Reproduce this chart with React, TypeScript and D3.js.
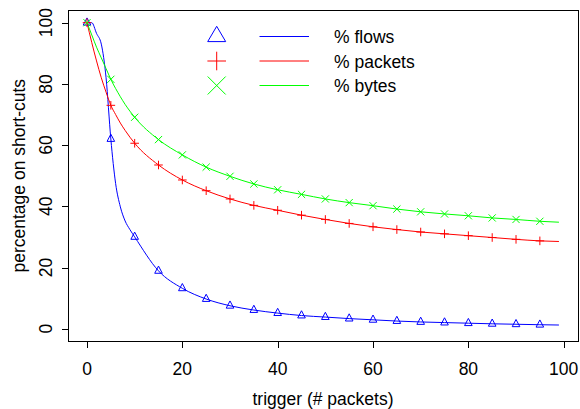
import React from "react";
import * as d3 from "d3";

const LINE_X = [0, 1, 2, 3, 4, 5, 6, 7, 8, 9, 10, 15, 20, 25, 30, 35, 40, 45, 50, 55, 60, 65, 70, 75, 80, 85, 90, 95, 99];
const FLOWS_LINE = [100, 100, 96.5, 93, 82, 62, 47.5, 39.8, 35.2, 32.4, 30, 18.9, 13.2, 9.7, 7.5, 6.1, 5.1, 4.3, 3.8, 3.3, 2.9, 2.5, 2.2, 2.0, 1.8, 1.6, 1.45, 1.3, 1.2];
const PACKETS_LINE = [100, 93.5, 87.5, 82, 77.3, 73, 70, 67.2, 64.8, 62.6, 60.6, 53.5, 48.6, 45.1, 42.4, 40.3, 38.7, 37.1, 35.7, 34.4, 33.3, 32.4, 31.6, 31.0, 30.4, 29.8, 29.2, 28.7, 28.5];
const BYTES_LINE = [100, 96, 92, 88.5, 85, 81.5, 78.5, 75.8, 73.3, 71.1, 69.1, 61.8, 56.8, 52.8, 49.8, 47.3, 45.4, 43.9, 42.4, 41.2, 40.2, 39.1, 38.2, 37.5, 36.9, 36.2, 35.7, 35.1, 34.8];

const MARK_X = [0, 5, 10, 15, 20, 25, 30, 35, 40, 45, 50, 55, 60, 65, 70, 75, 80, 85, 90, 95];
const FLOWS_PTS = [100, 62, 30, 18.9, 13.2, 9.7, 7.5, 6.1, 5.1, 4.3, 3.8, 3.3, 2.9, 2.5, 2.2, 2.0, 1.8, 1.6, 1.45, 1.3];
const PACKETS_PTS = [100, 73, 60.6, 53.5, 48.6, 45.1, 42.4, 40.3, 38.7, 37.1, 35.7, 34.4, 33.3, 32.4, 31.6, 31.0, 30.4, 29.8, 29.2, 28.7];
const BYTES_PTS = [100, 81.5, 69.1, 61.8, 56.8, 52.8, 49.8, 47.3, 45.4, 43.9, 42.4, 41.2, 40.2, 39.1, 38.2, 37.5, 36.9, 36.2, 35.7, 35.1];

const X_TICKS = [0, 20, 40, 60, 80, 100];
const Y_TICKS = [0, 20, 40, 60, 80, 100];
const LEGEND_LABELS = ["% flows", "% packets", "% bytes"];
const COLORS = ["#0000ff", "#ff0000", "#00ff00"];

const FONT = "'Liberation Sans', Arial, Helvetica, sans-serif";
const FS = 17.5;

function tri(cx: number, cy: number, xc: number, r: number, yc: number) {
  return `M${cx},${cy - r}L${cx + xc},${cy + yc}L${cx - xc},${cy + yc}Z`;
}
function plus(cx: number, cy: number, h: number) {
  return `M${cx - h},${cy}L${cx + h},${cy}M${cx},${cy - h}L${cx},${cy + h}`;
}
function cross(cx: number, cy: number, h: number) {
  return `M${cx - h},${cy - h}L${cx + h},${cy + h}M${cx - h},${cy + h}L${cx + h},${cy - h}`;
}

export default function App() {
  const x = d3.scaleLinear().domain([0, 100]).range([87, 563.7]);
  const y = d3.scaleLinear().domain([0, 100]).range([328.7, 22.7]);
  const left = x(-3.96), right = x(102.96), top = y(104), bottom = y(-4);

  const line = d3
    .line<number>()
    .x((_, i) => x(LINE_X[i]))
    .y((d) => y(d))
    .curve(d3.curveMonotoneX);

  const series = [FLOWS_LINE, PACKETS_LINE, BYTES_LINE];
  const pts = [FLOWS_PTS, PACKETS_PTS, BYTES_PTS];

  const marker = (k: number, cx: number, cy: number, big: boolean) => {
    if (k === 0) return big ? tri(cx, cy, 9, 10.2, 5.1) : tri(cx, cy, 3.8, 4.8, 2.4);
    if (k === 1) return plus(cx, cy, big ? 9.3 : 4.3);
    return cross(cx, cy, big ? 9 : 3.6);
  };

  const legendRows = [36.5, 61, 85.5];

  return (
    <svg
      width={580}
      height={409}
      style={{ position: "absolute", left: 0, top: 0, background: "#fff" }}
      fontFamily={FONT}
      fontSize={FS}
    >
      <rect x={0} y={0} width={580} height={409} fill="#fff" />
      <rect
        x={Math.round(left) + 0.5}
        y={Math.round(top) + 0.5}
        width={Math.round(right) - Math.round(left)}
        height={Math.round(bottom) - Math.round(top)}
        fill="none"
        stroke="#000"
        strokeWidth={1}
      />
      {X_TICKS.map((t) => (
        <g key={"xt" + t}>
          <line x1={Math.round(x(t)) + 0.5} x2={Math.round(x(t)) + 0.5} y1={Math.round(bottom) + 0.5} y2={Math.round(bottom) + 7} stroke="#000" />
          <text x={x(t)} y={375.3} textAnchor="middle" fill="#000">
            {t}
          </text>
        </g>
      ))}
      {Y_TICKS.map((t) => (
        <g key={"yt" + t}>
          <line x1={Math.round(left) - 6} x2={Math.round(left) + 0.5} y1={Math.round(y(t)) + 0.5} y2={Math.round(y(t)) + 0.5} stroke="#000" />
          <text transform={`translate(51.7,${y(t)}) rotate(-90)`} textAnchor="middle" fill="#000">
            {t}
          </text>
        </g>
      ))}
      <text x={(left + right) / 2} y={405} textAnchor="middle" fill="#000">
        trigger (# packets)
      </text>
      <text transform={`translate(24.6,${(top + bottom) / 2}) rotate(-90)`} textAnchor="middle" fill="#000">
        percentage on short-cuts
      </text>

      {series.map((s, k) => (
        <path key={"l" + k} d={line(s) || ""} fill="none" stroke={COLORS[k]} strokeWidth={1} />
      ))}
      {pts.map((s, k) =>
        s.map((v, i) => (
          <path key={`m${k}-${i}`} d={marker(k, x(MARK_X[i]), y(v), false)} fill="none" stroke={COLORS[k]} strokeWidth={1} />
        ))
      )}

      {LEGEND_LABELS.map((lab, k) => (
        <g key={"lg" + k}>
          <path d={marker(k, 216.7, legendRows[k], true)} fill="none" stroke={COLORS[k]} strokeWidth={1} />
          <line x1={259.5} x2={309} y1={legendRows[k]} y2={legendRows[k]} stroke={COLORS[k]} strokeWidth={1} />
          <text x={334} y={legendRows[k] + 6.5} fill="#000">
            {lab}
          </text>
        </g>
      ))}
    </svg>
  );
}
